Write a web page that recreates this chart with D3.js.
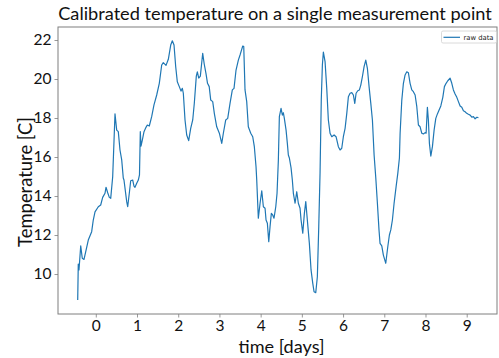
<!DOCTYPE html>
<html>
<head>
<meta charset="utf-8">
<script src="https://cdn.jsdelivr.net/npm/d3@7"></script>
<style>
  html, body { margin: 0; padding: 0; background: #fff; }
  svg { display: block; font-family: Lato, "Open Sans", sans-serif; }
</style>
</head>
<body>
<svg id="chart" width="499" height="358"></svg>
<script>
// Elapsed time of each sample, in days
const days = [
  -0.439, -0.425, -0.408, -0.366, -0.328, -0.286, -0.221, -0.182, -0.100, -0.061,
  -0.019, 0.061, 0.119, 0.167, 0.223, 0.248, 0.289, 0.328, 0.362, 0.410,
  0.466, 0.507, 0.546, 0.587, 0.629, 0.667, 0.684, 0.750, 0.774, 0.813,
  0.847, 0.896, 0.927, 0.951, 0.993, 1.032, 1.060, 1.080, 1.097, 1.129,
  1.170, 1.218, 1.250, 1.298, 1.356, 1.412, 1.478, 1.541, 1.599, 1.638,
  1.704, 1.760, 1.818, 1.857, 1.898, 1.939, 1.978, 2.026, 2.068, 2.100,
  2.124, 2.165, 2.206, 2.254, 2.303, 2.352, 2.391, 2.439, 2.464, 2.498,
  2.537, 2.594, 2.631, 2.675, 2.711, 2.752, 2.789, 2.837, 2.876, 2.934,
  2.998, 3.056, 3.095, 3.153, 3.201, 3.257, 3.313, 3.354, 3.403, 3.459,
  3.500, 3.541, 3.566, 3.590, 3.621, 3.662, 3.701, 3.760, 3.808, 3.847,
  3.888, 3.905, 3.944, 3.986, 4.027, 4.066, 4.107, 4.131, 4.163, 4.197,
  4.228, 4.260, 4.292, 4.324, 4.367, 4.398, 4.430, 4.454, 4.495, 4.527,
  4.551, 4.575, 4.617, 4.648, 4.672, 4.697, 4.738, 4.769, 4.794, 4.835,
  4.876, 4.915, 4.956, 4.981, 5.022, 5.061, 5.095, 5.133, 5.182, 5.223,
  5.265, 5.296, 5.337, 5.376, 5.410, 5.442, 5.471, 5.498, 5.522, 5.563,
  5.604, 5.643, 5.684, 5.726, 5.782, 5.830, 5.886, 5.927, 5.968, 6.007,
  6.049, 6.090, 6.129, 6.170, 6.211, 6.250, 6.284, 6.316, 6.357, 6.396,
  6.430, 6.469, 6.510, 6.551, 6.590, 6.631, 6.673, 6.712, 6.753, 6.794,
  6.833, 6.872, 6.897, 6.939, 6.978, 7.036, 7.085, 7.124, 7.158, 7.197,
  7.238, 7.287, 7.328, 7.367, 7.384, 7.425, 7.464, 7.505, 7.546, 7.585,
  7.626, 7.667, 7.706, 7.748, 7.789, 7.828, 7.869, 7.910, 7.949, 7.990,
  8.015, 8.046, 8.070, 8.095, 8.129, 8.168, 8.209, 8.250, 8.289, 8.330,
  8.372, 8.420, 8.459, 8.500, 8.541, 8.597, 8.638, 8.677, 8.718, 8.760,
  8.799, 8.840, 8.881, 8.920, 8.961, 9.000, 9.041, 9.083, 9.124, 9.163,
  9.204, 9.245, 9.284
];

// Calibrated temperature readings, in degrees C
const rawData = [
  8.67, 10.51, 10.21, 11.44, 10.81, 10.75, 11.37, 11.74, 12.17, 12.77,
  13.19, 13.45, 13.54, 13.93, 14.14, 14.45, 14.17, 13.93, 13.88, 14.99,
  18.21, 17.38, 17.30, 16.36, 15.85, 14.92, 14.82, 13.71, 13.45, 14.14,
  14.78, 14.82, 14.51, 14.45, 14.65, 14.82, 15.08, 17.30, 16.56, 16.87,
  17.30, 17.52, 17.64, 17.59, 18.07, 18.67, 19.18, 19.78, 20.72, 20.84,
  20.70, 21.01, 21.74, 21.96, 21.74, 20.63, 19.86, 19.61, 19.38, 19.52,
  19.27, 17.90, 17.13, 16.84, 17.47, 17.90, 18.77, 20.15, 20.37, 20.05,
  20.15, 21.32, 20.77, 20.26, 19.78, 19.61, 18.92, 18.84, 18.24, 17.55,
  17.22, 16.70, 17.22, 17.90, 17.98, 18.75, 19.44, 19.52, 20.46, 20.97,
  21.23, 21.52, 21.69, 21.66, 19.44, 18.84, 17.55, 17.22, 17.04, 16.53,
  15.50, 14.82, 12.86, 13.63, 14.27, 13.45, 13.37, 12.77, 12.60, 11.66,
  12.43, 13.11, 13.03, 12.86, 13.45, 14.14, 15.85, 18.07, 18.50, 18.15,
  18.27, 17.98, 17.38, 16.70, 16.10, 15.95, 15.44, 14.82, 14.14, 13.63,
  14.22, 13.63, 13.37, 12.77, 12.09, 13.11, 13.71, 12.77, 11.57, 10.21,
  9.52, 9.09, 9.04, 9.86, 12.43, 15.23, 18.92, 20.72, 21.38, 20.89,
  19.52, 17.90, 17.22, 17.04, 17.13, 17.04, 16.53, 16.36, 16.45, 17.04,
  17.47, 18.24, 19.09, 19.27, 19.30, 19.18, 18.75, 19.27, 19.40, 19.44,
  19.69, 20.12, 20.63, 20.97, 20.55, 19.61, 18.75, 17.90, 16.10, 14.92,
  13.63, 12.26, 11.57, 11.44, 10.97, 10.55, 11.40, 12.00, 12.26, 12.77,
  13.63, 14.48, 15.16, 15.95, 17.22, 18.92, 19.78, 20.21, 20.37, 20.32,
  19.78, 19.44, 19.35, 19.18, 18.58, 17.64, 17.55, 17.22, 17.18, 17.25,
  17.22, 18.55, 17.90, 16.70, 16.05, 16.53, 17.38, 17.98, 18.21, 18.41,
  18.62, 19.06, 19.61, 19.78, 19.91, 20.04, 19.78, 19.44, 19.23, 19.06,
  18.84, 18.62, 18.55, 18.37, 18.32, 18.24, 18.19, 18.15, 18.04, 18.07,
  17.96, 18.04, 18.02
];

const xTicks = [0, 1, 2, 3, 4, 5, 6, 7, 8, 9];
const yTicks = [10, 12, 14, 16, 18, 20, 22];
const seriesName = "raw data";
const titleText = "Calibrated temperature on a single measurement point";
const xLabelText = "time [days]";
const yLabelText = "Temperature [C]";

const svg = d3.select("#chart");
const plot = { left: 58, right: 497, top: 27, bottom: 314 };
const lineColor = "#1f77b4";
const frameColor = "#7f7f7f";
const textColor = "#111";

const x = d3.scaleLinear().domain([-0.917, 9.735]).range([plot.left, plot.right]);
const y = d3.scaleLinear().domain([7.95, 22.667]).range([plot.bottom, plot.top]);

// Scale a text element's font so its rendered width hits the given size
function fitWidth(sel, width, base) {
  sel.style("font-size", base + "px");
  const w = sel.node().getComputedTextLength();
  sel.style("font-size", (base * width / w).toFixed(2) + "px");
}

// Axes
const xAxis = svg.append("g")
  .attr("transform", `translate(0,${plot.bottom})`)
  .call(d3.axisBottom(x).tickValues(xTicks).tickFormat(d3.format("d")).tickSize(3.5).tickPadding(2.5));
const yAxis = svg.append("g")
  .attr("transform", `translate(${plot.left},0)`)
  .call(d3.axisLeft(y).tickValues(yTicks).tickFormat(d3.format("d")).tickSize(3.5).tickPadding(3));

[xAxis, yAxis].forEach(g => {
  g.select(".domain").remove();
  g.selectAll(".tick line").attr("stroke", frameColor).attr("stroke-width", 0.8);
  g.selectAll(".tick text")
    .attr("fill", textColor)
    .style("font-family", "Lato, sans-serif")
    .style("font-size", "15.5px");
});

// Plot frame
svg.append("rect")
  .attr("x", plot.left).attr("y", plot.top)
  .attr("width", plot.right - plot.left).attr("height", plot.bottom - plot.top)
  .attr("fill", "none").attr("stroke", frameColor).attr("stroke-width", 1);

// Temperature trace
const pts = days.map((d, i) => [d, rawData[i]]);
svg.append("path")
  .datum(pts)
  .attr("fill", "none")
  .attr("stroke", lineColor)
  .attr("stroke-width", 1.2)
  .attr("stroke-linejoin", "round")
  .attr("d", d3.line().x(d => x(d[0])).y(d => y(d[1])));

// Title and axis labels
const title = svg.append("text")
  .attr("x", (58 + 492) / 2).attr("y", 20)
  .attr("text-anchor", "middle").attr("fill", textColor)
  .text(titleText);
fitWidth(title, 434, 19);

const xLabel = svg.append("text")
  .attr("x", 281.5).attr("y", 352.5)
  .attr("text-anchor", "middle").attr("fill", textColor)
  .text(xLabelText);
fitWidth(xLabel, 86, 18);

const yLabel = svg.append("text")
  .attr("transform", "translate(32,182) rotate(-90)")
  .attr("text-anchor", "middle").attr("fill", textColor)
  .text(yLabelText);
fitWidth(yLabel, 130, 18);

// Legend
const legend = svg.append("g");
legend.append("rect")
  .attr("x", 441.5).attr("y", 31).attr("width", 55).attr("height", 12)
  .attr("rx", 1.5)
  .attr("fill", "#fff").attr("stroke", "#d0d0d0").attr("stroke-width", 0.8);
legend.append("line")
  .attr("x1", 443.5).attr("x2", 460).attr("y1", 37.3).attr("y2", 37.3)
  .attr("stroke", lineColor).attr("stroke-width", 1.2);
const legendText = legend.append("text")
  .attr("x", 463.5).attr("y", 39.8)
  .attr("fill", "#222")
  .style("font-family", "'DejaVu Sans', sans-serif")
  .text(seriesName);
fitWidth(legendText, 30, 7);
</script>
</body>
</html>
